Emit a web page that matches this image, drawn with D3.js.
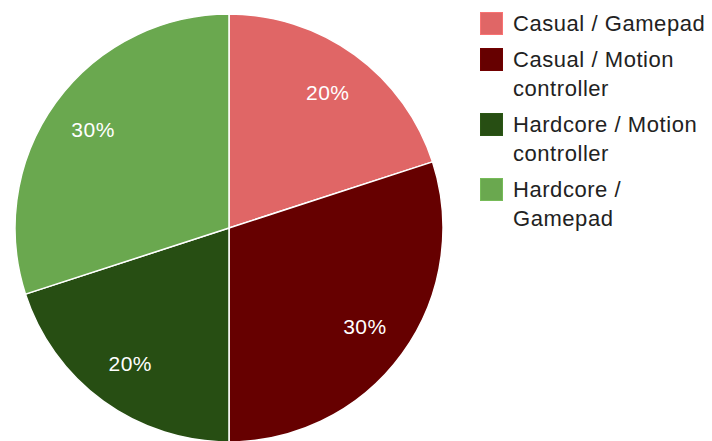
<!DOCTYPE html>
<html><head><meta charset="utf-8">
<script src="https://cdn.jsdelivr.net/npm/d3@7"></script>
<style>html,body{margin:0;padding:0;background:#fff;}svg{display:block;}</style>
</head><body>
<svg id="chart" width="712" height="441"></svg>
<script>
const categories = ["Casual / Gamepad", "Casual / Motion controller", "Hardcore / Motion controller", "Hardcore / Gamepad"];
const legendLines = [["Casual / Gamepad"], ["Casual / Motion", "controller"], ["Hardcore / Motion", "controller"], ["Hardcore /", "Gamepad"]];
const values = [20, 30, 20, 30];
const colors = ["#e06666", "#660000", "#274e13", "#6aa84f"];

const svg = d3.select("#chart");
const cx = 229, cy = 228, r = 214;
const font = "Arial, 'Liberation Sans', sans-serif";

const data = categories.map((c, i) => ({name: c, value: values[i], color: colors[i], lines: legendLines[i]}));
const pie = d3.pie().value(d => d.value).sort(null);
const arcs = pie(data);
const total = d3.sum(values);
const arc = d3.arc().innerRadius(0).outerRadius(r);
const labelArc = d3.arc().innerRadius(r * 0.785).outerRadius(r * 0.785);

const g = svg.append("g").attr("transform", `translate(${cx},${cy})`);
g.selectAll("path").data(arcs).join("path")
  .attr("d", arc).attr("fill", d => d.data.color)
  .attr("stroke", "#fff").attr("stroke-width", 1.5);

g.selectAll("text").data(arcs).join("text")
  .attr("transform", d => `translate(${labelArc.centroid(d)})`)
  .attr("text-anchor", "middle").attr("dy", "0.36em")
  .attr("fill", "#fff").attr("font-family", font).attr("font-size", 21)
  .attr("letter-spacing", 0.5)
  .text(d => Math.round(d.data.value / total * 100) + "%");

// legend
const lx = 480, lineH = 29, gap = 7;
let y = 12;
const lg = svg.append("g");
data.forEach(d => {
  lg.append("rect").attr("x", lx + 0.5).attr("y", y + 0.5).attr("width", 22).attr("height", 22)
    .attr("fill", d.color).attr("stroke", d3.color(d.color).brighter(0.3)).attr("stroke-width", 1);
  d.lines.forEach((t, k) => {
    lg.append("text").attr("x", 513).attr("y", y + 11 + k * lineH).attr("dy", "0.36em")
      .attr("font-family", font).attr("font-size", 22).attr("fill", "#222")
      .attr("letter-spacing", 0.55)
      .text(t);
  });
  y += d.lines.length * lineH + gap;
});
</script>
</body></html>
